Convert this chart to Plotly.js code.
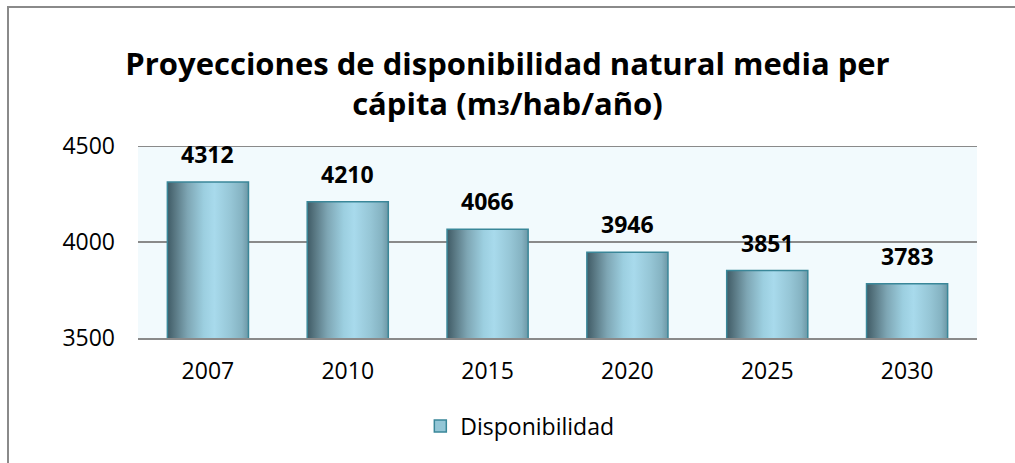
<!DOCTYPE html>
<html>
<head>
<meta charset="utf-8">
<script src="https://cdn.plot.ly/plotly-3.0.1.min.js"></script>
<style>
  html, body { margin: 0; padding: 0; background: #fff; }
  #wrap { position: relative; width: 1015px; height: 463px; overflow: hidden; }
  #chart { width: 1015px; height: 463px; }
  #frame { position: absolute; left: 7px; top: 6px; width: 1100px; height: 600px;
           border-top: 2px solid #8a8a8a; border-left: 2px solid #8a8a8a; pointer-events: none; }
  #chart .cartesianlayer .barlayer .point path { fill: url(#barGrad) !important; }
</style>
</head>
<body>
<svg width="0" height="0" style="position:absolute">
  <defs>
    <linearGradient id="barGrad" x1="0" y1="0" x2="1" y2="0">
      <stop offset="0" stop-color="#3f5b66"/>
      <stop offset="0.08" stop-color="#55737e"/>
      <stop offset="0.25" stop-color="#7ea6b4"/>
      <stop offset="0.45" stop-color="#9ccfe0"/>
      <stop offset="0.58" stop-color="#a8daec"/>
      <stop offset="0.78" stop-color="#96c6d6"/>
      <stop offset="0.92" stop-color="#85b3c2"/>
      <stop offset="1" stop-color="#6d97a5"/>
    </linearGradient>
  </defs>
</svg>
<div id="wrap">
  <div id="chart"></div>
  <div id="frame"></div>
</div>
<script>
const categories = ["2007", "2010", "2015", "2020", "2025", "2030"];
const values = [4312, 4210, 4066, 3946, 3851, 3783];
const seriesName = "Disponibilidad";
const yTicks = [3500, 4000, 4500];
const chartTitle = "Proyecciones de disponibilidad natural media per<br>cápita (m<span style=\"font-size:22px\">3</span>/hab/año)";

const FONT = "'Open Sans', 'DejaVu Sans', sans-serif";

const trace = {
  type: "bar",
  x: categories,
  y: values,
  name: seriesName,
  marker: { color: "#93c6d6", line: { color: "#3a8799", width: 1.5 } },
  hoverinfo: "skip",
  showlegend: true
};

// label positions use the category index on the category axis
const annotations = values.map((v, i) => ({
  x: i, y: v, xref: "x", yref: "y",
  text: "<b>" + v + "</b>",
  showarrow: false, yanchor: "bottom", yshift: 10,
  font: { family: FONT, size: 23, color: "#000" }
}));

// top gridline (Plotly drops the grid line on the range edge)
const shapes = [{
  type: "line", xref: "paper", x0: 0, x1: 1,
  yref: "y", y0: yTicks[yTicks.length - 1], y1: yTicks[yTicks.length - 1],
  line: { color: "#8a8a8a", width: 2 }, layer: "above"
}];

const layout = {
  width: 1015, height: 463,
  margin: { l: 138, r: 38, t: 146, b: 125 },
  paper_bgcolor: "#ffffff",
  plot_bgcolor: "#f2fafd",
  font: { family: FONT, size: 23, color: "#000" },
  title: {
    text: "<b>" + chartTitle + "</b>",
    font: { family: FONT, size: 31, color: "#000" },
    x: 0.5, xref: "container", xanchor: "center",
    y: 1 - 75 / 463, yref: "container", yanchor: "middle"
  },
  bargap: 0.42,
  xaxis: {
    type: "category",
    range: [-0.5, categories.length - 0.5],
    showgrid: false,
    showline: true, linecolor: "#8a8a8a", linewidth: 2,
    ticks: "", ticklabelstandoff: 11,
    tickfont: { family: FONT, size: 23, color: "#000" },
    fixedrange: true
  },
  yaxis: {
    range: [yTicks[0], yTicks[yTicks.length - 1]],
    tickvals: yTicks,
    ticktext: yTicks.map(String),
    showgrid: true, gridcolor: "#8a8a8a", gridwidth: 2,
    zeroline: false, showline: false,
    ticks: "", ticklabelstandoff: 22,
    tickfont: { family: FONT, size: 23, color: "#000" },
    fixedrange: true
  },
  legend: {
    orientation: "h",
    x: 0.3365, xanchor: "left",
    y: -0.458, yanchor: "middle",
    font: { family: FONT, size: 23, color: "#000" },
    bgcolor: "rgba(0,0,0,0)"
  },
  annotations: annotations,
  shapes: shapes,
  showlegend: true
};

Plotly.newPlot("chart", [trace], layout, { displayModeBar: false, staticPlot: true });
</script>
</body>
</html>
